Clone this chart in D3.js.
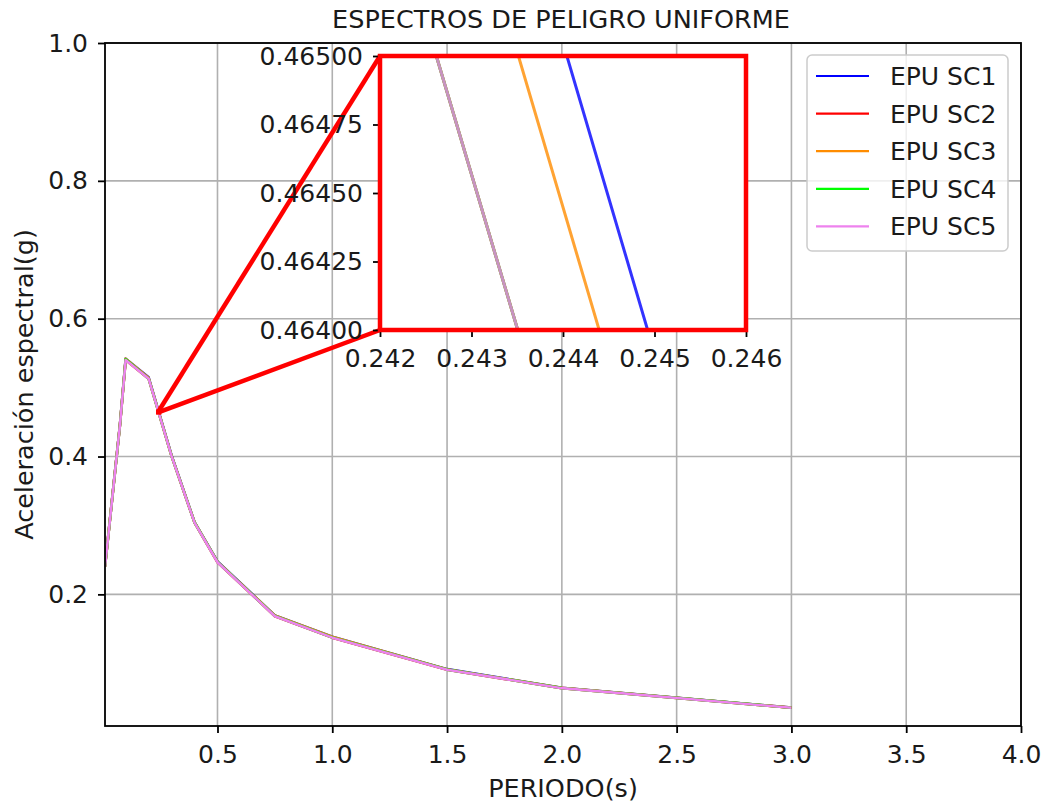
<!DOCTYPE html>
<html>
<head>
<meta charset="utf-8">
<script src="https://cdn.jsdelivr.net/npm/d3@7"></script>
<style>
  body { margin: 0; background: #fff; }
  text { font-family: "DejaVu Sans", sans-serif; fill: #1a1a1a; }
</style>
</head>
<body>
<svg id="chart" width="1048" height="805"></svg>
<script>
// data
const periods = [0.01, 0.075, 0.1, 0.2, 0.3, 0.4, 0.5, 0.75, 1.0, 1.5, 2.0, 3.0]
const sc1 = [0.241, 0.446, 0.542, 0.5149, 0.4016, 0.3048, 0.2478, 0.1695, 0.1385, 0.0915, 0.0645, 0.0357]
const sc2 = [0.240, 0.445, 0.540, 0.5129, 0.4005, 0.3040, 0.2466, 0.1683, 0.1372, 0.0906, 0.0639, 0.0354]
const sc3 = [0.241, 0.446, 0.542, 0.5143, 0.4010, 0.3046, 0.2475, 0.1695, 0.1384, 0.0913, 0.0644, 0.0356]
const sc4 = [0.240, 0.445, 0.541, 0.5129, 0.4005, 0.3043, 0.2470, 0.1686, 0.1375, 0.0908, 0.0640, 0.0355]
const sc5 = [0.240, 0.445, 0.540, 0.5129, 0.4005, 0.3040, 0.2466, 0.1683, 0.1372, 0.0906, 0.0639, 0.0354]
const seriesNames = ['EPU SC1', 'EPU SC2', 'EPU SC3', 'EPU SC4', 'EPU SC5']
const seriesColors = ['#0000ff', '#ff0000', '#ff8c00', '#00ff00', '#ee82ee']
const xTicks = [0.5, 1.0, 1.5, 2.0, 2.5, 3.0, 3.5, 4.0]
const yTicks = [0.2, 0.4, 0.6, 0.8, 1.0]
const insetXTicks = [0.242, 0.243, 0.244, 0.245, 0.246]
const insetYTicks = [0.464, 0.46425, 0.4645, 0.46475, 0.465]

const allSeries = [sc1, sc2, sc3, sc4, sc5].map(function (vals, i) {
  return { name: seriesNames[i], color: seriesColors[i], points: periods.map(function (t, j) { return [t, vals[j]] }) }
})

// main axes
const margin = { top: 43, right: 27, bottom: 79, left: 105 }
const width = 1048 - margin.left - margin.right
const height = 805 - margin.top - margin.bottom

const svg = d3.select('#chart')
const g = svg.append('g')
  .attr('transform', 'translate(' + margin.left + ',' + margin.top + ')')

const x = d3.scaleLinear().domain([0.01, 4]).range([0, width])
const y = d3.scaleLinear().domain([0.009, 1]).range([height, 0])

svg.append('defs').append('clipPath').attr('id', 'clipMain')
  .append('rect').attr('width', width).attr('height', height)

// grid
g.append('g').selectAll('line').data(xTicks).enter().append('line')
  .attr('x1', d => x(d)).attr('x2', d => x(d)).attr('y1', 0).attr('y2', height)
  .attr('stroke', '#b0b0b0').attr('stroke-width', 1.6)
g.append('g').selectAll('line').data(yTicks).enter().append('line')
  .attr('y1', d => y(d)).attr('y2', d => y(d)).attr('x1', 0).attr('x2', width)
  .attr('stroke', '#b0b0b0').attr('stroke-width', 1.6)

const line = d3.line().x(d => x(d[0])).y(d => y(d[1]))
g.append('g').attr('clip-path', 'url(#clipMain)')
  .selectAll('path').data(allSeries).enter().append('path')
  .attr('d', d => line(d.points))
  .attr('fill', 'none')
  .attr('stroke', d => d.color)
  .attr('stroke-width', 2.6)
  .attr('stroke-linejoin', 'round')

// axes
const xAxis = g.append('g').attr('transform', 'translate(0,' + height + ')')
  .call(d3.axisBottom(x).tickValues(xTicks).tickFormat(d3.format('.1f')).tickSize(7).tickPadding(10))
const yAxis = g.append('g')
  .call(d3.axisLeft(y).tickValues(yTicks).tickFormat(d3.format('.1f')).tickSize(7).tickPadding(10))
;[xAxis, yAxis].forEach(function (a) {
  a.select('.domain').remove()
  a.selectAll('line').attr('stroke', '#000').attr('stroke-width', 1.8)
  a.selectAll('text').style('font-size', '25px').attr('fill', '#1a1a1a')
})
xAxis.selectAll('text').attr('dy', '0.78em')

g.append('rect').attr('width', width).attr('height', height)
  .attr('fill', 'none').attr('stroke', '#000').attr('stroke-width', 1.8)

// titles
svg.append('text').attr('x', 561).attr('y', 28).attr('text-anchor', 'middle')
  .style('font-size', '25.5px').text('ESPECTROS DE PELIGRO UNIFORME')
svg.append('text').attr('x', margin.left + width / 2).attr('y', 797).attr('text-anchor', 'middle')
  .style('font-size', '25.5px').text('PERIODO(s)')
svg.append('text').attr('transform', 'translate(33,' + (margin.top + height / 2) + ') rotate(-90)')
  .attr('text-anchor', 'middle').style('font-size', '25.5px').text('Aceleración espectral(g)')

// legend
const legend = svg.append('g').attr('transform', 'translate(807,55)')
legend.append('rect').attr('width', 201).attr('height', 196).attr('rx', 5)
  .attr('fill', '#fff').attr('fill-opacity', 0.8).attr('stroke', '#cccccc').attr('stroke-width', 1.5)
const items = legend.selectAll('.item').data(allSeries).enter().append('g')
  .attr('transform', (d, i) => 'translate(0,' + (21 + i * 37.6) + ')')
items.append('line').attr('x1', 9).attr('x2', 62)
  .attr('stroke', d => d.color).attr('stroke-width', 2.2)
items.append('text').attr('x', 83).attr('dy', '0.36em').style('font-size', '25px').text(d => d.name)

// inset
const inset = { left: 380, top: 56, width: 366, height: 274 }
const xi = d3.scaleLinear().domain([0.242, 0.246]).range([0, inset.width])
const yi = d3.scaleLinear().domain([0.464, 0.465]).range([inset.height, 0])

// connectors from the zoomed region to the inset corners
const zx = margin.left + x(0.242)
svg.append('g').selectAll('line')
  .data([[inset.top, 0.465], [inset.top + inset.height, 0.464]])
  .enter().append('line')
  .attr('x1', zx).attr('y1', d => margin.top + y(d[1]))
  .attr('x2', inset.left).attr('y2', d => d[0])
  .attr('stroke', '#ff0000').attr('stroke-width', 4.5)
svg.append('rect').attr('x', zx).attr('y', margin.top + y(0.465))
  .attr('width', margin.left + x(0.246) - zx).attr('height', y(0.464) - y(0.465))
  .attr('fill', 'none').attr('stroke', '#ff0000').attr('stroke-width', 4.5)

const gi = svg.append('g').attr('transform', 'translate(' + inset.left + ',' + inset.top + ')')
svg.select('defs').append('clipPath').attr('id', 'clipInset')
  .append('rect').attr('width', inset.width).attr('height', inset.height)
gi.append('rect').attr('width', inset.width).attr('height', inset.height).attr('fill', '#fff')

const lineInset = d3.line().x(d => xi(d[0])).y(d => yi(d[1]))
gi.append('g').attr('clip-path', 'url(#clipInset)')
  .selectAll('path').data(allSeries).enter().append('path')
  .attr('d', d => lineInset(d.points))
  .attr('fill', 'none')
  .attr('stroke', d => d.color)
  .attr('stroke-opacity', 0.8)
  .attr('stroke-width', 3)

const xiAxis = gi.append('g').attr('transform', 'translate(0,' + inset.height + ')')
  .call(d3.axisBottom(xi).tickValues(insetXTicks).tickFormat(d3.format('.3f')).tickSize(7).tickPadding(10))
const yiAxis = gi.append('g')
  .call(d3.axisLeft(yi).tickValues(insetYTicks).tickFormat(d3.format('.5f')).tickSize(7).tickPadding(10))
;[xiAxis, yiAxis].forEach(function (a) {
  a.select('.domain').remove()
  a.selectAll('line').attr('stroke', '#000').attr('stroke-width', 1.8)
  a.selectAll('text').style('font-size', '25px').attr('fill', '#1a1a1a')
})
xiAxis.selectAll('text').attr('dy', '0.78em')

gi.append('rect').attr('width', inset.width).attr('height', inset.height)
  .attr('fill', 'none').attr('stroke', '#ff0000').attr('stroke-width', 4.5)
</script>
</body>
</html>
